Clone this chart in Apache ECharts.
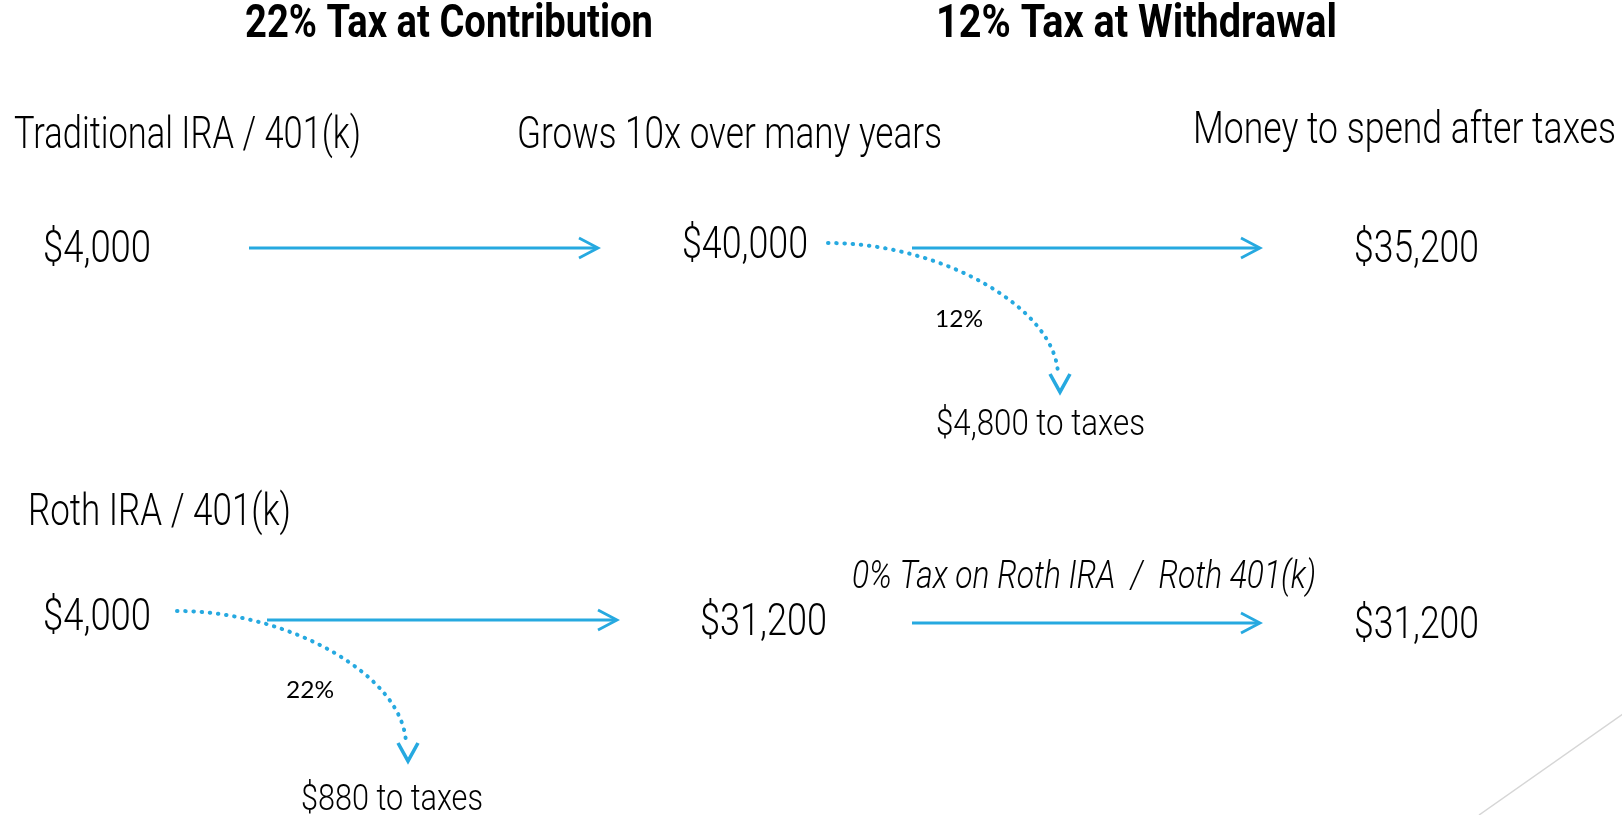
<!DOCTYPE html>
<html>
<head>
<meta charset="utf-8">
<script src="https://cdn.jsdelivr.net/npm/echarts@6/dist/echarts.min.js"></script>
<style>
html,body{margin:0;padding:0;background:#fff;}
#main{width:1622px;height:815px;}
</style>
</head>
<body>
<div id="main"></div>
<script>
// ---------- data ----------
const titles = ['22% Tax at Contribution', '12% Tax at Withdrawal'];
const stageLabels = ['Traditional IRA / 401(k)', 'Grows 10x over many years', 'Money to spend after taxes'];
const rothLabel = 'Roth IRA / 401(k)';
const traditionalValues = [4000, 40000, 35200];
const traditionalTax = 4800;
const traditionalRate = '12%';
const rothValues = [4000, 31200, 31200];
const rothTax = 880;
const rothRate = '22%';
const rothNote = '0% Tax on Roth IRA  /  Roth 401(k)';

const money = v => '$' + v.toLocaleString('en-US');

// ---------- layout (pixel space of the hidden axes) ----------
const colX = [43, 682, 1354];          // value column left edges
const rowY = [265, 633];               // value row baselines
// text styles
const S = {
  title:  {fontFamily: 'Roboto', fontWeight: 700, fontStyle: 'normal', fontSize: 46},
  head:   {fontFamily: 'Roboto', fontWeight: 300, fontStyle: 'normal', fontSize: 45},
  value:  {fontFamily: 'Roboto', fontWeight: 300, fontStyle: 'normal', fontSize: 45},
  tax:    {fontFamily: 'Roboto', fontWeight: 300, fontStyle: 'normal', fontSize: 37},
  note:   {fontFamily: 'Roboto', fontWeight: 300, fontStyle: 'italic', fontSize: 39},
  pct:    {fontFamily: 'Lato',   fontWeight: 400, fontStyle: 'normal', fontSize: 23}
};
// [text, left x, baseline y, target width, style]
const textItems = [
  [titles[0], 245, 40, 408, 'title'],
  [titles[1], 936, 40, 401, 'title'],
  [stageLabels[0], 14, 151, 347, 'head'],
  [stageLabels[1], 517, 151, 425, 'head'],
  [stageLabels[2], 1193, 146, 423, 'head'],
  [money(traditionalValues[0]), colX[0], rowY[0], 108, 'value'],
  [money(traditionalValues[1]), colX[1], rowY[0] - 4, 126, 'value'],
  [money(traditionalValues[2]), colX[2], rowY[0], 125, 'value'],
  [traditionalRate, 935, 327, 48, 'pct'],
  [money(traditionalTax) + ' to taxes', 936, 437, 209, 'tax'],
  [rothLabel, 28, 528, 263, 'head'],
  [money(rothValues[0]), colX[0], rowY[1], 108, 'value'],
  [money(rothValues[1]), 700, rowY[1] + 5, 127, 'value'],
  [rothNote, 852, 590, 464, 'note'],
  [money(rothValues[2]), colX[2], rowY[1] + 8, 125, 'value'],
  [rothRate, 286, 698, 48, 'pct'],
  [money(rothTax) + ' to taxes', 301, 812, 182, 'tax']
];
// straight arrows [x1, y1, x2, y2]
const arrowItems = [
  [249, 248, 598, 248],
  [912, 248, 1260, 248],
  [267, 620, 617, 620],
  [912, 623, 1260, 623]
];
// dotted curved arrows [x1, y1, tipX, tipY]
const curveItems = [
  [828, 243, 1060, 392],
  [177, 611, 408, 761]
];
const decoLine = [[1479, 815, 1640, 702]];

const BLUE = '#26A9E0';

const ctx = document.createElement('canvas').getContext('2d');
function fitScale(text, w, st) {
  ctx.font = `${st.fontStyle} ${st.fontWeight} ${st.fontSize}px ${st.fontFamily}`;
  const m = ctx.measureText(text).width;
  return m > 0 ? w / m : 1;
}

const chart = echarts.init(document.getElementById('main'), null, {renderer: 'canvas'});
chart.setOption({
  animation: false,
  backgroundColor: '#ffffff',
  grid: {left: 0, right: 0, top: 0, bottom: 0},
  xAxis: {type: 'value', min: 0, max: 1622, show: false},
  yAxis: {type: 'value', min: 0, max: 815, inverse: true, show: false},
  series: [
    {
      type: 'custom', name: 'deco', silent: true, clip: false,
      coordinateSystem: 'cartesian2d',
      data: decoLine.map(d => d.slice()),
      encode: {x: [0, 2], y: [1, 3]},
      renderItem: (params, api) => {
        const a = api.coord([api.value(0), api.value(1)]);
        const b = api.coord([api.value(2), api.value(3)]);
        return {type: 'line', shape: {x1: a[0], y1: a[1], x2: b[0], y2: b[1]},
          style: {stroke: '#d6d6d6', lineWidth: 1.5}};
      }
    },
    {
      type: 'custom', name: 'arrows', silent: true, clip: false,
      coordinateSystem: 'cartesian2d',
      data: arrowItems.map(d => d.slice()),
      encode: {x: [0, 2], y: [1, 3]},
      renderItem: (params, api) => {
        const a = api.coord([api.value(0), api.value(1)]);
        const b = api.coord([api.value(2), api.value(3)]);
        return {type: 'group', children: [
          {type: 'line', shape: {x1: a[0], y1: a[1], x2: b[0] - 1, y2: b[1]},
            style: {stroke: BLUE, lineWidth: 2.8}},
          {type: 'polyline', shape: {points: [[b[0] - 19, b[1] - 10], [b[0], b[1]], [b[0] - 19, b[1] + 10]]},
            style: {stroke: BLUE, lineWidth: 2.8, fill: null, lineJoin: 'miter'}}
        ]};
      }
    },
    {
      type: 'custom', name: 'curves', silent: true, clip: false,
      coordinateSystem: 'cartesian2d',
      data: curveItems.map(d => d.slice()),
      encode: {x: [0, 2], y: [1, 3]},
      renderItem: (params, api) => {
        const a = api.coord([api.value(0), api.value(1)]);
        const t = api.coord([api.value(2), api.value(3)]);
        const e = [t[0] - 2, t[1] - 16];
        const dx = e[0] - a[0], dy = e[1] - a[1];
        return {type: 'group', children: [
          {type: 'bezierCurve', shape: {x1: a[0], y1: a[1], x2: e[0], y2: e[1],
              cpx1: a[0] + dx * 0.5, cpy1: a[1], cpx2: e[0], cpy2: e[1] - dy * 0.5},
            style: {stroke: BLUE, lineWidth: 4, lineCap: 'round', lineDash: [0.5, 7.7], fill: null}},
          {type: 'polyline', shape: {points: [[t[0] - 10, t[1] - 18], [t[0], t[1]], [t[0] + 10, t[1] - 18]]},
            style: {stroke: BLUE, lineWidth: 3.6, fill: null, lineJoin: 'miter'}}
        ]};
      }
    },
    {
      type: 'custom', name: 'texts', silent: true, clip: false,
      coordinateSystem: 'cartesian2d',
      data: textItems.map((d, i) => [d[1], d[2], i]),
      encode: {x: 0, y: 1},
      renderItem: (params, api) => {
        const item = textItems[api.value(2)];
        const st = S[item[4]];
        const p = api.coord([api.value(0), api.value(1)]);
        const sx = fitScale(item[0], item[3], st);
        return {type: 'text', x: p[0], y: p[1] - st.fontSize * 0.31, scaleX: sx,
          style: {text: item[0], x: 0, y: 0, fill: '#000', align: 'left', verticalAlign: 'middle',
            fontFamily: st.fontFamily, fontWeight: st.fontWeight, fontStyle: st.fontStyle, fontSize: st.fontSize}};
      }
    }
  ]
});
</script>
</body>
</html>
